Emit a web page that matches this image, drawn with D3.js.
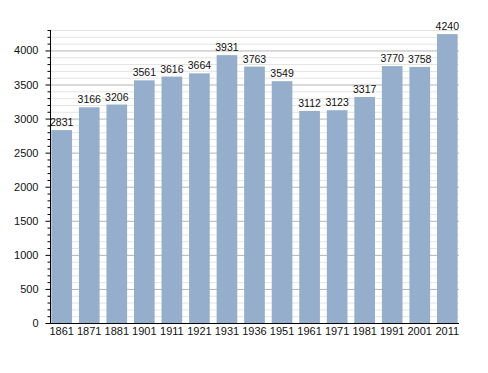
<!DOCTYPE html>
<html>
<head>
<meta charset="utf-8">
<script src="https://cdn.jsdelivr.net/npm/d3@7"></script>
<style>
  body { margin: 0; background: #fff; }
  text { font-family: "Liberation Sans", Arial, sans-serif; fill: #111; }
</style>
</head>
<body>
<div id="chart"></div>
<script>
// census years and population
const years = ["1861", "1871", "1881", "1901", "1911", "1921", "1931", "1936",
  "1951", "1961", "1971", "1981", "1991", "2001", "2011"];
const population = [2831, 3166, 3206, 3561, 3616, 3664, 3931, 3763,
  3549, 3112, 3123, 3317, 3770, 3758, 4240];
const yTicks = [0, 500, 1000, 1500, 2000, 2500, 3000, 3500, 4000];

const width = 488, height = 373;
const plot = { left: 50, right: 459, bottom: 323, top: 30 };

const svg = d3.select("#chart").append("svg")
  .attr("width", width)
  .attr("height", height);

const x = d3.scaleBand()
  .domain(years)
  .range([plot.left, plot.right])
  .paddingInner(0.25)
  .paddingOuter(0.05);

const y = d3.scaleLinear()
  .domain([0, 4300])
  .range([plot.bottom, plot.top]);

// grid lines, light every 100, darker every 500
const minor = d3.range(100, 4400, 100).filter(v => v % 500 !== 0);
svg.append("g")
  .selectAll("line")
  .data(minor)
  .enter()
  .append("line")
  .attr("x1", plot.left).attr("x2", plot.right)
  .attr("y1", d => y(d) + 0.5).attr("y2", d => y(d) + 0.5)
  .style("stroke", "#e4e4e4")
  .style("stroke-width", 1);

svg.append("g")
  .selectAll("line")
  .data(yTicks.slice(1))
  .enter()
  .append("line")
  .attr("x1", plot.left).attr("x2", plot.right)
  .attr("y1", d => y(d) + 0.5).attr("y2", d => y(d) + 0.5)
  .style("stroke", "#b4b4b4")
  .style("stroke-width", 1);

// bars
svg.append("g")
  .selectAll("rect")
  .data(population)
  .enter()
  .append("rect")
  .attr("x", (d, i) => x(years[i]))
  .attr("width", x.bandwidth())
  .attr("y", d => y(d))
  .attr("height", d => plot.bottom - y(d))
  .style("fill", "#94aecb");

// value labels
svg.append("g")
  .selectAll("text")
  .data(population)
  .enter()
  .append("text")
  .attr("x", (d, i) => x(years[i]) + x.bandwidth() / 2)
  .attr("y", d => y(d) - 4)
  .attr("text-anchor", "middle")
  .style("font-size", "10.5px")
  .text(d => d);

// y axis with minor ticks
const yAxis = svg.append("g").attr("transform", `translate(${plot.left + 0.5},0)`);
yAxis.append("line")
  .attr("x1", 0).attr("x2", 0)
  .attr("y1", plot.top).attr("y2", plot.bottom)
  .style("stroke", "#000");
yAxis.selectAll("line.minor")
  .data(minor)
  .enter()
  .append("line")
  .attr("class", "minor")
  .attr("x1", -3).attr("x2", 0)
  .attr("y1", d => y(d) + 0.5).attr("y2", d => y(d) + 0.5)
  .style("stroke", "#000");
yAxis.selectAll("line.major")
  .data(yTicks)
  .enter()
  .append("line")
  .attr("class", "major")
  .attr("x1", -5).attr("x2", 0)
  .attr("y1", d => y(d) + 0.5).attr("y2", d => y(d) + 0.5)
  .style("stroke", "#000");
yAxis.selectAll("text")
  .data(yTicks)
  .enter()
  .append("text")
  .attr("x", -12)
  .attr("y", d => y(d) + 4)
  .attr("text-anchor", "end")
  .style("font-size", "11px")
  .text(d => d);

// x axis
svg.append("line")
  .attr("x1", plot.left).attr("x2", plot.right)
  .attr("y1", plot.bottom + 0.5).attr("y2", plot.bottom + 0.5)
  .style("stroke", "#000");

svg.append("g")
  .selectAll("text")
  .data(years)
  .enter()
  .append("text")
  .attr("x", d => x(d) + x.bandwidth() / 2)
  .attr("y", plot.bottom + 12)
  .attr("text-anchor", "middle")
  .style("font-size", "11px")
  .text(d => d);
</script>
</body>
</html>
